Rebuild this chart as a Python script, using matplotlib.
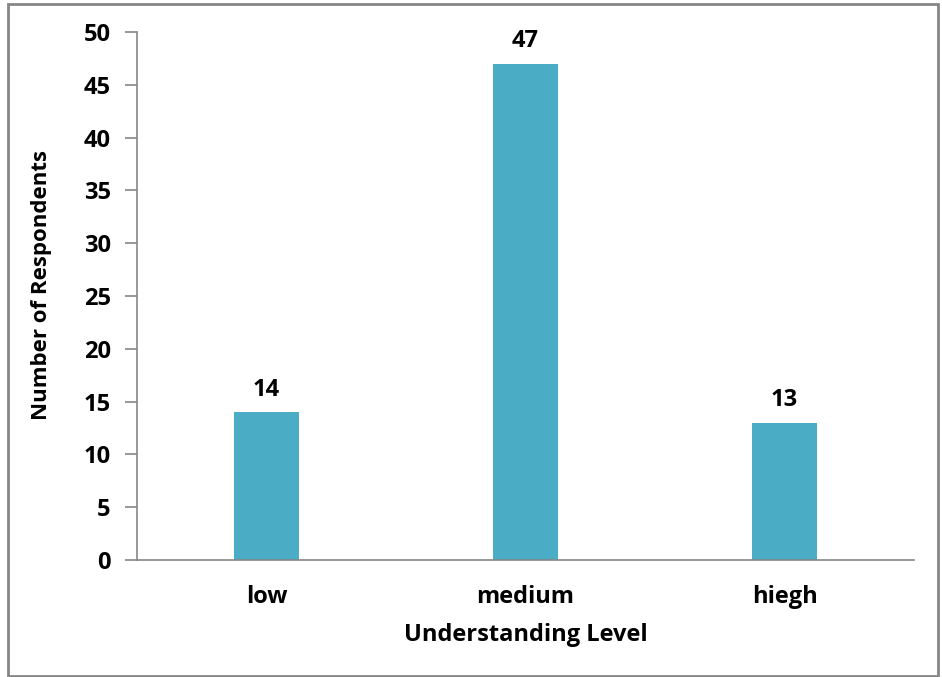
import matplotlib
matplotlib.use("Agg")
import matplotlib.pyplot as plt
from matplotlib.patches import Rectangle

levels = ["low", "medium", "hiegh"]
respondents = [14, 47, 13]

plt.rcParams["font.family"] = ["Open Sans", "DejaVu Sans"]
plt.rcParams["font.weight"] = "bold"
FS = 17

W, H = 942, 677
fig = plt.figure(figsize=(W / 100, H / 100), dpi=100)
ax = fig.add_axes([137 / W, 1 - 560 / H, (914 - 137) / W, (560 - 32) / H])

bars = ax.bar(range(len(levels)), respondents, width=0.25, color="#4BACC6")
for b, v in zip(bars, respondents):
    ax.text(b.get_x() + b.get_width() / 2, v + 1.0, str(v),
            ha="center", va="bottom", fontsize=FS, fontweight="bold")

ax.set_xlim(-0.5, len(levels) - 0.5)
ax.set_ylim(0, 50)
ax.set_yticks(range(0, 51, 5))
ax.set_xticks(range(len(levels)))
ax.set_xticklabels(levels)

for s in ["top", "right"]:
    ax.spines[s].set_visible(False)
for s in ["left", "bottom"]:
    ax.spines[s].set_color("#868686")
    ax.spines[s].set_linewidth(1.2)
ax.tick_params(axis="y", length=9, width=1.2, color="#868686", labelsize=FS, pad=10)
ax.tick_params(axis="x", length=0, labelsize=FS, pad=18)

ax.set_ylabel("Number of Respondents", fontsize=16, fontweight="bold")
ax.yaxis.set_label_coords((42 - 137) / (914 - 137), (560 - 285) / (560 - 32))
ax.yaxis.label.set_va("center")
ax.set_xlabel("Understanding Level", fontsize=FS, fontweight="bold", labelpad=10)

# outer chart frame
fig.patches.append(Rectangle((8 / W, 1 / H), (938 - 8) / W, (672) / H,
                             transform=fig.transFigure, fill=False,
                             edgecolor="#868686", linewidth=2))

fig.savefig("out.png", dpi=100)
